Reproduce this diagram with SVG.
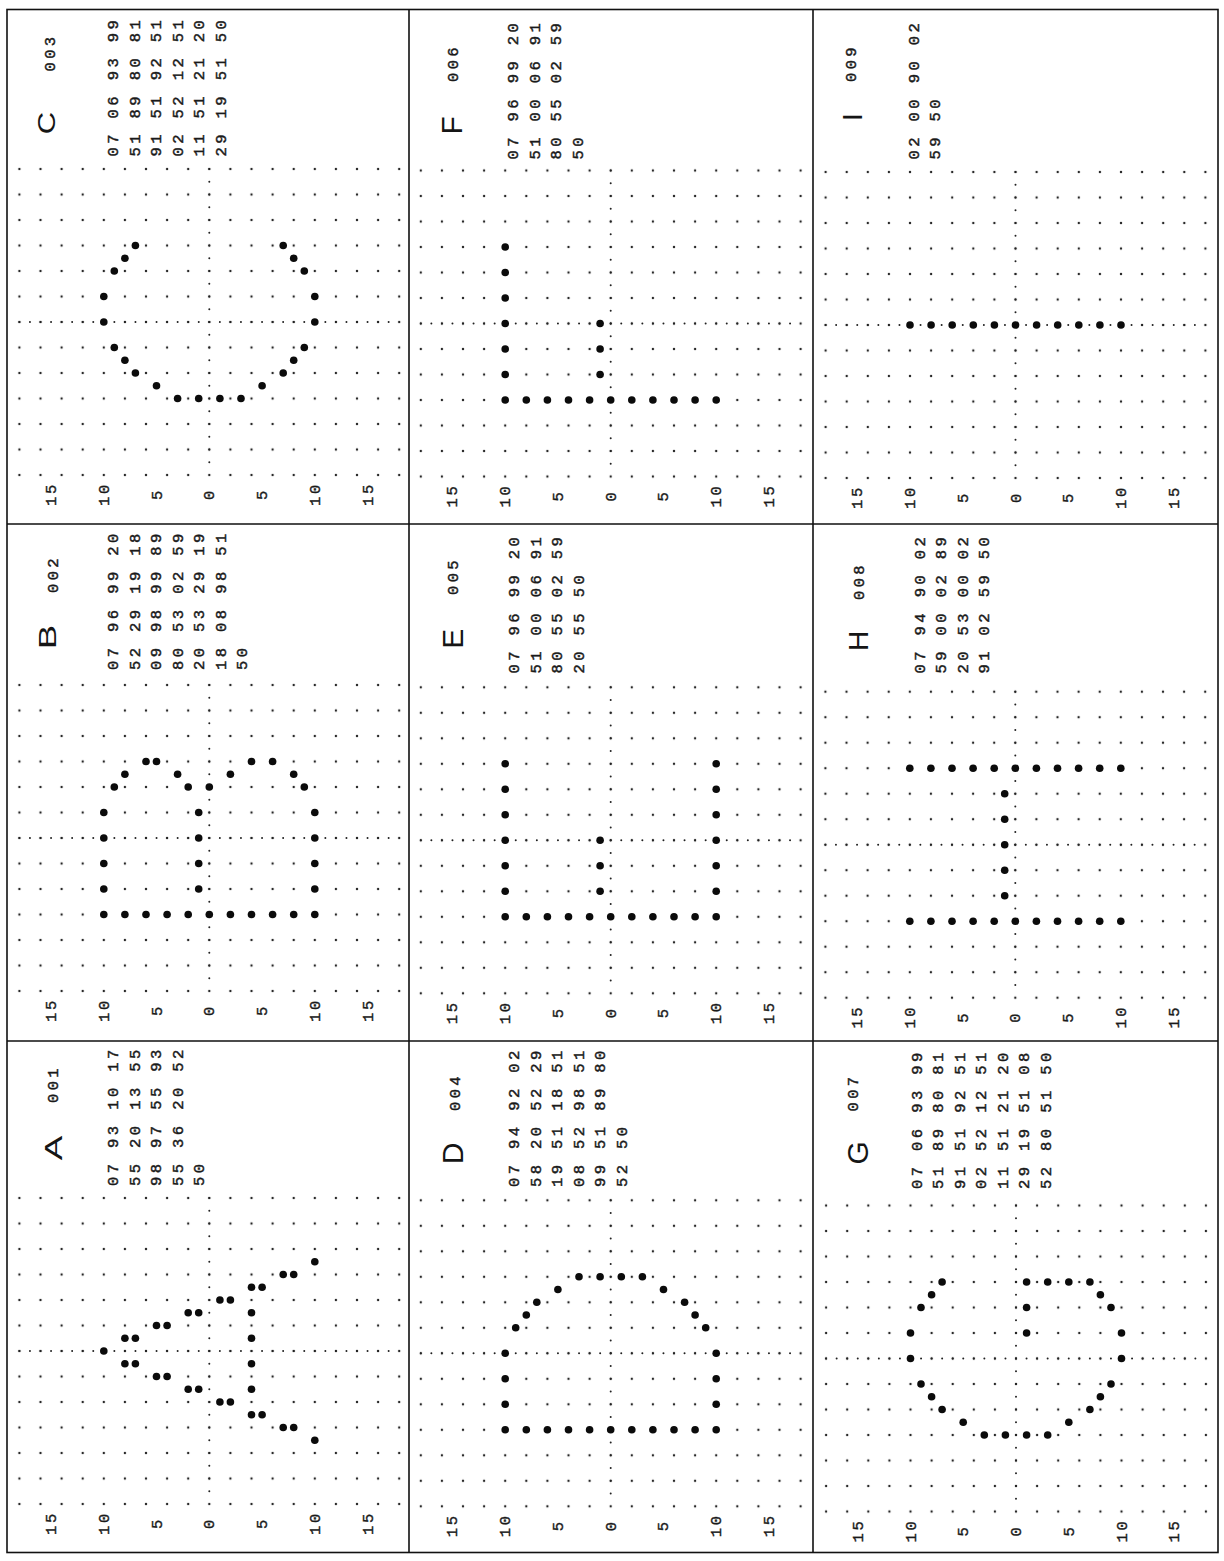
<svg xmlns="http://www.w3.org/2000/svg" xmlns:xlink="http://www.w3.org/1999/xlink" width="1224" height="1561" viewBox="0 0 1224 1561">
<style>
.bd{fill:none;stroke:#111;stroke-width:1.6}
.ax{fill:none;stroke:#222;stroke-width:2;stroke-linecap:round}
.t{font-family:"Liberation Mono","DejaVu Sans Mono",monospace;font-size:15.5px;letter-spacing:3.4px;fill:#1a1a1a;stroke:#1a1a1a;stroke-width:0.45}
.al{font-family:"Liberation Mono","DejaVu Sans Mono",monospace;font-size:15.5px;letter-spacing:2.6px;fill:#1a1a1a;stroke:#1a1a1a;stroke-width:0.4;text-anchor:middle}
.L{font-family:"Liberation Sans",Arial,sans-serif;fill:#151515;text-anchor:middle}
</style>
<defs>
<pattern id="gp" patternUnits="userSpaceOnUse" x="-10.55" y="-12.75" width="21.1" height="25.5"><circle cx="10.55" cy="12.75" r="1.2" fill="#262626"/></pattern>
<circle id="d" r="3.8" fill="#0b0b0b"/>
<g id="frame">
<rect x="-200" y="-165" width="400" height="330" fill="url(#gp)"/>
<path class="ax" d="M-189.9 0H189.9" stroke-dasharray="0 10.55"/>
<path class="ax" d="M0 -153V153" stroke-dasharray="0 12.75"/>
<g transform="rotate(-90)">
<text class="al" x="-172" y="-153.3">15</text>
<text class="al" x="-172" y="-100.5">10</text>
<text class="al" x="-172" y="-47.8">5</text>
<text class="al" x="-172" y="5">0</text>
<text class="al" x="-172" y="57.8">5</text>
<text class="al" x="-172" y="110.5">10</text>
<text class="al" x="-172" y="163.3">15</text>
</g>
</g>
<g id="row11">
<use href="#d" x="-105.5" y="0"/><use href="#d" x="-84.4" y="0"/><use href="#d" x="-63.3" y="0"/><use href="#d" x="-42.2" y="0"/><use href="#d" x="-21.1" y="0"/><use href="#d" x="0" y="0"/><use href="#d" x="21.1" y="0"/><use href="#d" x="42.2" y="0"/><use href="#d" x="63.3" y="0"/><use href="#d" x="84.4" y="0"/><use href="#d" x="105.5" y="0"/>
</g>
<g id="cshape">
<use href="#d" x="-73.9" y="-76.5"/><use href="#d" x="-84.4" y="-63.75"/><use href="#d" x="-95" y="-51"/><use href="#d" x="-105.5" y="-25.5"/><use href="#d" x="-105.5" y="0"/><use href="#d" x="-95" y="25.5"/><use href="#d" x="-84.4" y="38.25"/><use href="#d" x="-73.9" y="51"/><use href="#d" x="-52.8" y="63.75"/><use href="#d" x="-31.7" y="76.5"/><use href="#d" x="-10.6" y="76.5"/><use href="#d" x="10.6" y="76.5"/><use href="#d" x="31.7" y="76.5"/><use href="#d" x="52.8" y="63.75"/><use href="#d" x="73.9" y="51"/><use href="#d" x="84.4" y="38.25"/><use href="#d" x="95" y="25.5"/><use href="#d" x="105.5" y="0"/><use href="#d" x="105.5" y="-25.5"/><use href="#d" x="95" y="-51"/><use href="#d" x="84.4" y="-63.75"/><use href="#d" x="73.9" y="-76.5"/>
</g>
<g id="fshape">
<use href="#d" x="-105.5" y="-76.5"/><use href="#d" x="-105.5" y="-51"/><use href="#d" x="-105.5" y="-25.5"/><use href="#d" x="-105.5" y="0"/><use href="#d" x="-105.5" y="25.5"/><use href="#d" x="-105.5" y="51"/>
<use href="#row11" y="76.5"/>
<use href="#d" x="-10.6" y="0"/><use href="#d" x="-10.6" y="25.5"/><use href="#d" x="-10.6" y="51"/>
</g>
</defs>
<rect width="1224" height="1561" fill="#fff"/>
<g id="borders">
<rect class="bd" x="7" y="9.5" width="1211" height="1543"/>
<path class="bd" d="M409 9.5V1552.5M813 9.5V1552.5M7 524H1218M7 1041H1218"/>
</g>

<!-- Panel C -->
<g id="panel-C">
<g transform="translate(209.3,322)"><use href="#frame"/><use href="#cshape"/></g>
<g transform="translate(7,9.5) rotate(-90)">
<text class="L" font-size="23" transform="translate(-113.5,48) scale(1.35,1)">C</text>
<text class="t" x="-43" y="48" text-anchor="middle">003</text>
<text class="t" x="-147" y="111.3">07 06 93 99<tspan x="-147" dy="21.5">51 89 80 81</tspan><tspan x="-147" dy="21.5">91 51 92 51</tspan><tspan x="-147" dy="21.5">02 52 12 51</tspan><tspan x="-147" dy="21.5">11 51 21 20</tspan><tspan x="-147" dy="21.5">29 19 51 50</tspan></text>
</g>
</g>

<!-- Panel F -->
<g id="panel-F">
<g transform="translate(610.7,323.5)"><use href="#frame"/><use href="#fshape"/></g>
<g transform="translate(409,9.5) rotate(-90)">
<text class="L" font-size="30" x="-115.8" y="52.5">F</text>
<text class="t" x="-53.5" y="48.5" text-anchor="middle">006</text>
<text class="t" x="-150" y="109.3">07 96 99 20<tspan x="-150" dy="21.5">51 00 06 91</tspan><tspan x="-150" dy="21.5">80 55 02 59</tspan><tspan x="-150" dy="21.5">50</tspan></text>
</g>
</g>

<!-- Panel I -->
<g id="panel-I">
<g transform="translate(1015.5,325)"><use href="#frame"/><use href="#row11"/></g>
<g transform="translate(813,9.5) rotate(-90)">
<text class="L" font-size="28" x="-107.5" y="48.5">I</text>
<text class="t" x="-53.5" y="43" text-anchor="middle">009</text>
<text class="t" x="-150" y="105.5">02 00 90 02<tspan x="-150" dy="21.5">59 50</tspan></text>
</g>
</g>

<!-- Panel B -->
<g id="panel-B">
<g transform="translate(209.3,838)"><use href="#frame"/>
<use href="#d" x="-105.5" y="-25.5"/><use href="#d" x="-105.5" y="0"/><use href="#d" x="-105.5" y="25.5"/><use href="#d" x="-105.5" y="51"/>
<use href="#d" x="-95" y="-51"/><use href="#d" x="-84.4" y="-63.75"/><use href="#d" x="-63.3" y="-76.5"/><use href="#d" x="-52.8" y="-76.5"/><use href="#d" x="-31.7" y="-63.75"/><use href="#d" x="-21.1" y="-51"/><use href="#d" x="0" y="-51"/>
<use href="#d" x="-10.6" y="-25.5"/><use href="#d" x="-10.6" y="0"/><use href="#d" x="-10.6" y="25.5"/><use href="#d" x="-10.6" y="51"/>
<use href="#d" x="21.1" y="-63.75"/><use href="#d" x="42.2" y="-76.5"/><use href="#d" x="63.3" y="-76.5"/><use href="#d" x="84.4" y="-63.75"/><use href="#d" x="95" y="-51"/>
<use href="#d" x="105.5" y="-25.5"/><use href="#d" x="105.5" y="0"/><use href="#d" x="105.5" y="25.5"/><use href="#d" x="105.5" y="51"/>
<use href="#row11" y="76.5"/>
</g>
<g transform="translate(7,524) rotate(-90)">
<text class="L" font-size="23" transform="translate(-113,48.8) scale(1.6,1)">B</text>
<text class="t" x="-50" y="51.3" text-anchor="middle">002</text>
<text class="t" x="-146" y="111.3">07 96 99 20<tspan x="-146" dy="21.5">52 29 19 18</tspan><tspan x="-146" dy="21.5">09 98 99 89</tspan><tspan x="-146" dy="21.5">80 53 02 59</tspan><tspan x="-146" dy="21.5">20 53 29 19</tspan><tspan x="-146" dy="21.5">18 08 98 51</tspan><tspan x="-146" dy="21.5">50</tspan></text>
</g>
</g>

<!-- Panel E -->
<g id="panel-E">
<g transform="translate(610.7,840.3)"><use href="#frame"/><use href="#fshape"/>
<use href="#d" x="105.5" y="-76.5"/><use href="#d" x="105.5" y="-51"/><use href="#d" x="105.5" y="-25.5"/><use href="#d" x="105.5" y="0"/><use href="#d" x="105.5" y="25.5"/><use href="#d" x="105.5" y="51"/>
</g>
<g transform="translate(409,524) rotate(-90)">
<text class="L" font-size="30" x="-114.7" y="54">E</text>
<text class="t" x="-52" y="49" text-anchor="middle">005</text>
<text class="t" x="-149.5" y="110">07 96 99 20<tspan x="-149.5" dy="21.5">51 00 06 91</tspan><tspan x="-149.5" dy="21.5">80 55 02 59</tspan><tspan x="-149.5" dy="21.5">20 55 50</tspan></text>
</g>
</g>

<!-- Panel H -->
<g id="panel-H">
<g transform="translate(1015.3,844.7)"><use href="#frame"/>
<use href="#row11" y="-76.5"/><use href="#row11" y="76.5"/>
<use href="#d" x="-10.6" y="-51"/><use href="#d" x="-10.6" y="-25.5"/><use href="#d" x="-10.6" y="0"/><use href="#d" x="-10.6" y="25.5"/><use href="#d" x="-10.6" y="51"/>
</g>
<g transform="translate(813,524) rotate(-90)">
<text class="L" font-size="28" x="-117" y="55">H</text>
<text class="t" x="-57" y="51" text-anchor="middle">008</text>
<text class="t" x="-149.5" y="111.7">07 94 90 02<tspan x="-149.5" dy="21.5">59 00 02 89</tspan><tspan x="-149.5" dy="21.5">20 53 00 02</tspan><tspan x="-149.5" dy="21.5">91 02 59 50</tspan></text>
</g>
</g>

<!-- Panel A -->
<g id="panel-A">
<g transform="translate(209.3,1351)"><use href="#frame"/>
<use href="#d" x="-105.5" y="0"/>
<use href="#d" x="-84.4" y="-12.75"/><use href="#d" x="-73.9" y="-12.75"/><use href="#d" x="-84.4" y="12.75"/><use href="#d" x="-73.9" y="12.75"/>
<use href="#d" x="-52.8" y="-25.5"/><use href="#d" x="-42.2" y="-25.5"/><use href="#d" x="-52.8" y="25.5"/><use href="#d" x="-42.2" y="25.5"/>
<use href="#d" x="-21.1" y="-38.25"/><use href="#d" x="-10.6" y="-38.25"/><use href="#d" x="-21.1" y="38.25"/><use href="#d" x="-10.6" y="38.25"/>
<use href="#d" x="10.6" y="-51"/><use href="#d" x="21.1" y="-51"/><use href="#d" x="10.6" y="51"/><use href="#d" x="21.1" y="51"/>
<use href="#d" x="42.2" y="-63.75"/><use href="#d" x="52.8" y="-63.75"/><use href="#d" x="42.2" y="63.75"/><use href="#d" x="52.8" y="63.75"/>
<use href="#d" x="73.9" y="-76.5"/><use href="#d" x="84.4" y="-76.5"/><use href="#d" x="73.9" y="76.5"/><use href="#d" x="84.4" y="76.5"/>
<use href="#d" x="105.5" y="-89.25"/><use href="#d" x="105.5" y="89.25"/>
<use href="#d" x="42.2" y="-38.25"/><use href="#d" x="42.2" y="-12.75"/><use href="#d" x="42.2" y="12.75"/><use href="#d" x="42.2" y="38.25"/>
</g>
<g transform="translate(7,1041) rotate(-90)">
<text class="L" font-size="23" transform="translate(-107,54.5) scale(1.6,1)">A</text>
<text class="t" x="-43" y="50.5" text-anchor="middle">001</text>
<text class="t" x="-145" y="111.3">07 93 10 17<tspan x="-145" dy="21.5">55 20 13 55</tspan><tspan x="-145" dy="21.5">98 97 55 93</tspan><tspan x="-145" dy="21.5">55 36 20 52</tspan><tspan x="-145" dy="21.5">50</tspan></text>
</g>
</g>

<!-- Panel D -->
<g id="panel-D">
<g transform="translate(610.7,1353.3)"><use href="#frame"/>
<use href="#d" x="-105.5" y="0"/><use href="#d" x="-105.5" y="25.5"/><use href="#d" x="-105.5" y="51"/>
<use href="#d" x="-95" y="-25.5"/><use href="#d" x="-84.4" y="-38.25"/><use href="#d" x="-73.9" y="-51"/><use href="#d" x="-52.8" y="-63.75"/><use href="#d" x="-31.7" y="-76.5"/><use href="#d" x="-10.6" y="-76.5"/><use href="#d" x="10.6" y="-76.5"/><use href="#d" x="31.7" y="-76.5"/><use href="#d" x="52.8" y="-63.75"/><use href="#d" x="73.9" y="-51"/><use href="#d" x="84.4" y="-38.25"/><use href="#d" x="95" y="-25.5"/>
<use href="#d" x="105.5" y="0"/><use href="#d" x="105.5" y="25.5"/><use href="#d" x="105.5" y="51"/>
<use href="#row11" y="76.5"/>
</g>
<g transform="translate(409,1041) rotate(-90)">
<text class="L" font-size="30" x="-112.3" y="54">D</text>
<text class="t" x="-51" y="51" text-anchor="middle">004</text>
<text class="t" x="-146" y="110">07 94 92 02<tspan x="-146" dy="21.5">58 20 52 29</tspan><tspan x="-146" dy="21.5">19 51 18 51</tspan><tspan x="-146" dy="21.5">08 52 98 51</tspan><tspan x="-146" dy="21.5">99 51 89 80</tspan><tspan x="-146" dy="21.5">52 50</tspan></text>
</g>
</g>

<!-- Panel G -->
<g id="panel-G">
<g transform="translate(1016,1358.5)"><use href="#frame"/><use href="#cshape"/>
<use href="#d" x="10.6" y="-76.5"/><use href="#d" x="31.7" y="-76.5"/><use href="#d" x="52.8" y="-76.5"/><use href="#d" x="10.6" y="-51"/><use href="#d" x="10.6" y="-25.5"/>
</g>
<g transform="translate(813,1041) rotate(-90)">
<text class="L" font-size="30" x="-111.8" y="55.2">G</text>
<text class="t" x="-51.5" y="45" text-anchor="middle">007</text>
<text class="t" x="-148" y="108.7">07 06 93 99<tspan x="-148" dy="21.5">51 89 80 81</tspan><tspan x="-148" dy="21.5">91 51 92 51</tspan><tspan x="-148" dy="21.5">02 52 12 51</tspan><tspan x="-148" dy="21.5">11 51 21 20</tspan><tspan x="-148" dy="21.5">29 19 51 08</tspan><tspan x="-148" dy="21.5">52 80 51 50</tspan></text>
</g>
</g>
</svg>
